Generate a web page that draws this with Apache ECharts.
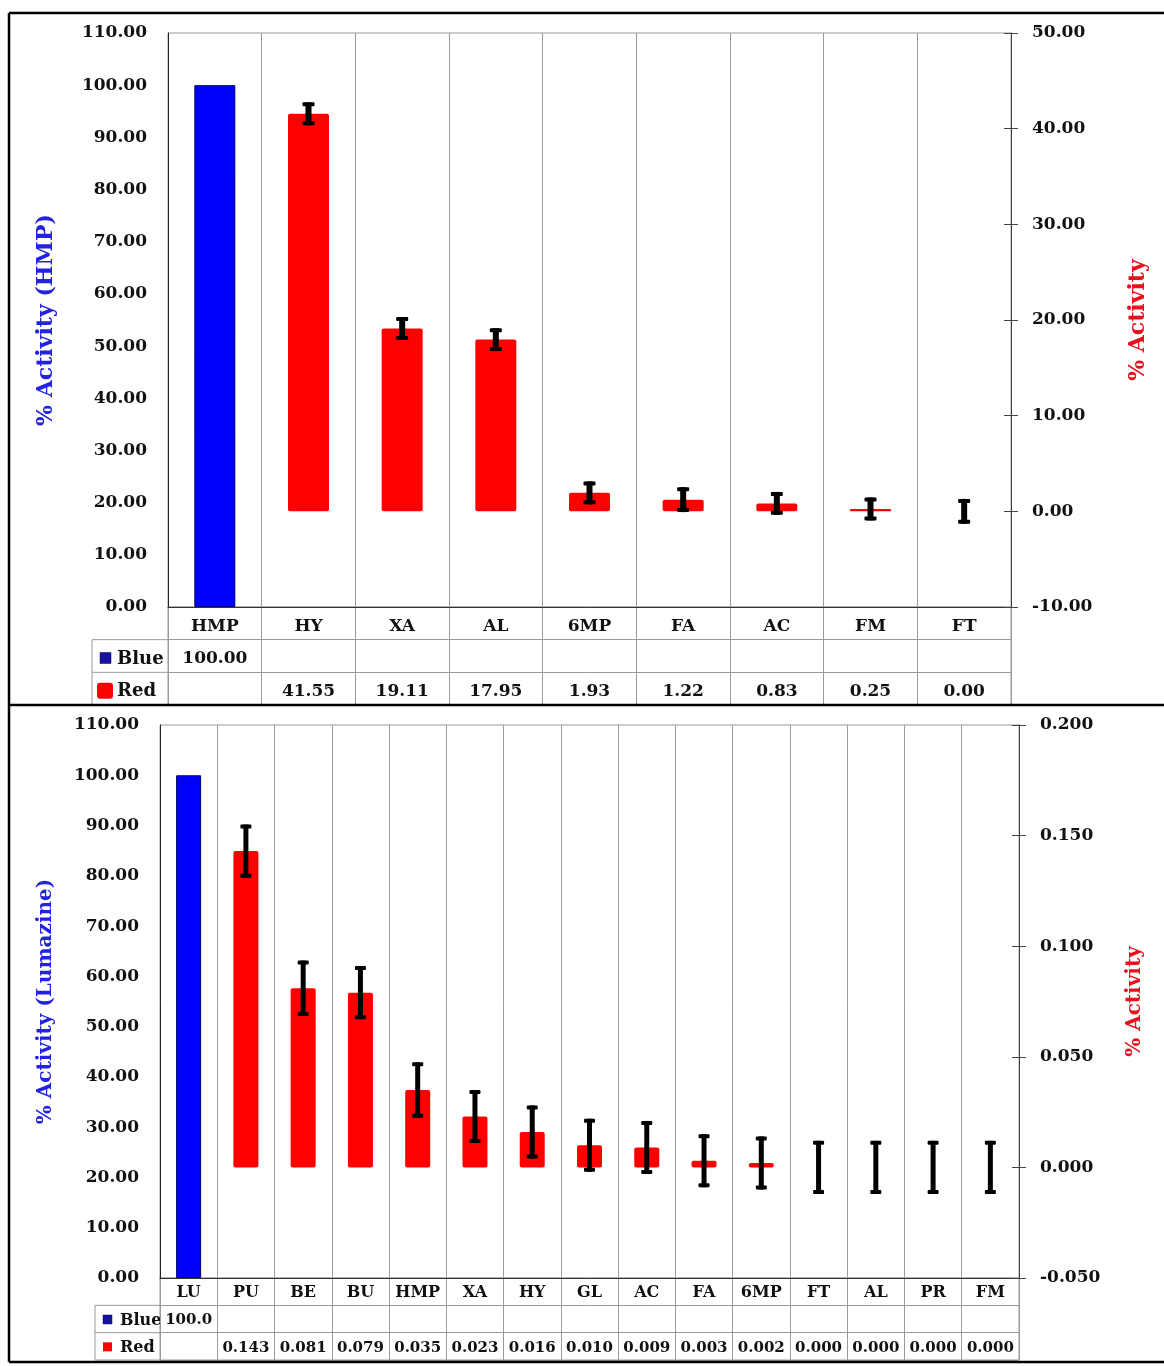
<!DOCTYPE html>
<html><head><meta charset="utf-8">
<script src="https://cdn.jsdelivr.net/npm/echarts@6/dist/echarts.min.js"></script>
<style>html,body{margin:0;padding:0;background:#fff}#c{width:1164px;height:1366px}</style>
</head><body><div id="c"></div>
<script>
// ---------- DATA ----------
const topCategories = ['HMP','HY','XA','AL','6MP','FA','AC','FM','FT'];
const topBlue = [100, null, null, null, null, null, null, null, null];
const topRed = [null, 41.55, 19.11, 17.95, 1.93, 1.22, 0.83, 0.25, 0.00];
const topRedErr = [null, 1.2, 1.2, 1.2, 1.2, 1.3, 1.2, 1.2, 1.3];
const topBlueLabels = ['100.00','','','','','','','',''];
const topRedLabels = ['','41.55','19.11','17.95','1.93','1.22','0.83','0.25','0.00'];
const topLeftAxis = {min: 0, max: 110, interval: 10, name: '% Activity (HMP)'};
const topRightAxis = {min: -10, max: 50, interval: 10, name: '% Activity'};

const botCategories = ['LU','PU','BE','BU','HMP','XA','HY','GL','AC','FA','6MP','FT','AL','PR','FM'];
const botBlue = [100, null, null, null, null, null, null, null, null, null, null, null, null, null, null];
const botRed = [null, 0.143, 0.081, 0.079, 0.035, 0.023, 0.016, 0.010, 0.009, 0.003, 0.002, 0.000, 0.000, 0.000, 0.000];
const botRedErr = [null, 0.012, 0.0125, 0.012, 0.0125, 0.012, 0.012, 0.012, 0.012, 0.012, 0.012, 0.012, 0.012, 0.012, 0.012];
const botBlueLabels = ['100.0','','','','','','','','','','','','','',''];
const botRedLabels = ['','0.143','0.081','0.079','0.035','0.023','0.016','0.010','0.009','0.003','0.002','0.000','0.000','0.000','0.000'];
const botLeftAxis = {min: 0, max: 110, interval: 10, name: '% Activity (Lumazine)'};
const botRightAxis = {min: -0.05, max: 0.2, interval: 0.05, name: '% Activity'};
const legendNames = ['Blue', 'Red'];

// ---------- STYLE ----------
const FF = 'DejaVu Serif';
const BLUE = '#0000ff', RED = '#ff0000';
const GRIDC = '#9a9a9a';

const W = 1164;
const L1 = {left:168, top:33, width:843, height:574, tblH:98, fs:17, catFs:17, tblFs:17, legFs:18, nameFs:22, barW:41, errW:6, capW:12, dec:2, rdec:2, nameGapL:111, nameGapR:116, legX:92, tdy:3};
const L2 = {left:160, top:725, width:859, height:553, tblH:82, fs:17, catFs:16, tblFs:15, legFs:16, nameFs:20, barW:25, errW:5, capW:11, dec:2, rdec:3, nameGapL:104, nameGapR:106, legX:95, tdy:1.5};

const chart = echarts.init(document.getElementById('c'));

const grids = [], xAxes = [], yAxes = [], series = [], graphics = [];

function tableCells(cats, blueL, redL){
  const cells = [], texts = [];
  cats.forEach((c,i)=>{ cells.push([i,0]); texts.push(c); });
  blueL.forEach((t,i)=>{ if(t!=='') { cells.push([i,1]); texts.push(t);} });
  redL.forEach((t,i)=>{ if(t!=='') { cells.push([i,2]); texts.push(t);} });
  return {cells, texts};
}

function buildPanel(L, cats, blue, red, err, blueL, redL, la, ra){
  const gi = grids.length;
  grids.push({left:L.left, top:L.top, width:L.width, height:L.height, show:true, borderColor:GRIDC, borderWidth:1, containLabel:false});
  grids.push({left:L.left, top:L.top+L.height, width:L.width, height:L.tblH, show:true, borderColor:GRIDC, borderWidth:1, containLabel:false});
  const xi = xAxes.length;
  xAxes.push({type:'category', gridIndex:gi, data:cats, boundaryGap:true,
    axisLine:{show:true, lineStyle:{color:'#333', width:1}}, axisTick:{show:false}, axisLabel:{show:false},
    splitLine:{show:true, interval:0, lineStyle:{color:GRIDC, width:1}}});
  xAxes.push({type:'category', gridIndex:gi+1, data:cats, boundaryGap:true,
    axisLine:{show:false}, axisTick:{show:false}, axisLabel:{show:false},
    splitLine:{show:true, interval:0, lineStyle:{color:GRIDC, width:1}}});
  const yi = yAxes.length;
  yAxes.push({type:'value', gridIndex:gi, position:'left', min:la.min, max:la.max, interval:la.interval,
    name:la.name, nameLocation:'middle', nameGap:L.nameGapL, nameRotate:90,
    nameTextStyle:{color:'#2222e0', fontFamily:FF, fontWeight:'bold', fontSize:L.nameFs},
    axisLine:{show:true, lineStyle:{color:'#222'}}, axisTick:{show:false},
    axisLabel:{margin:21, color:'#111', fontFamily:FF, fontWeight:'bold', fontSize:L.fs, formatter:v=>v.toFixed(L.dec)},
    splitLine:{show:false}});
  yAxes.push({type:'value', gridIndex:gi, position:'right', min:ra.min, max:ra.max, interval:ra.interval,
    name:ra.name, nameLocation:'middle', nameGap:L.nameGapR, nameRotate:90,
    nameTextStyle:{color:'#e8101a', fontFamily:FF, fontWeight:'bold', fontSize:L.nameFs},
    axisLine:{show:true, lineStyle:{color:'#444'}}, axisTick:{show:true, inside:false, length:7, lineStyle:{color:'#444'}},
    axisLabel:{margin:21, color:'#111', fontFamily:FF, fontWeight:'bold', fontSize:L.fs, formatter:v=>v.toFixed(L.rdec)},
    splitLine:{show:false}});
  yAxes.push({type:'value', gridIndex:gi, position:'right', min:ra.min, max:ra.max, interval:ra.interval,
    axisLine:{show:false}, axisTick:{show:true, inside:true, length:7, lineStyle:{color:'#444'}},
    axisLabel:{show:false}, splitLine:{show:false}});
  yAxes.push({type:'value', gridIndex:gi+1, min:0, max:3, interval:1, inverse:true,
    axisLine:{show:false}, axisTick:{show:false}, axisLabel:{show:false},
    splitLine:{show:true, lineStyle:{color:GRIDC, width:1}}});

  series.push({type:'bar', xAxisIndex:xi, yAxisIndex:yi, data:blue, barWidth:L.barW, barGap:'-100%',
    itemStyle:{color:BLUE, borderColor:'#000070', borderWidth:1}, silent:true});
  series.push({type:'bar', xAxisIndex:xi, yAxisIndex:yi+1, data:red, barWidth:L.barW, barGap:'-100%',
    itemStyle:{color:RED, borderRadius:2}, silent:true});
  const errData = [];
  red.forEach((v,i)=>{ if(v!==null) errData.push([i, v, err[i]]); });
  series.push({type:'custom', xAxisIndex:xi, yAxisIndex:yi+1, data:errData, silent:true, z:5,
    renderItem:(params, api)=>{
      const x = api.value(0), v = api.value(1), e = api.value(2);
      const t = api.coord([x, v+e]), b = api.coord([x, v-e]);
      const lw = L.errW, cw = L.capW;
      return {type:'group', children:[
        {type:'rect', shape:{x:t[0]-lw/2, y:t[1], width:lw, height:b[1]-t[1]}, style:{fill:'#000'}},
        {type:'rect', shape:{x:t[0]-cw/2, y:t[1], width:cw, height:4, r:1}, style:{fill:'#000'}},
        {type:'rect', shape:{x:b[0]-cw/2, y:b[1]-4, width:cw, height:4, r:1}, style:{fill:'#000'}}
      ]};
    }});
  const tc = tableCells(cats, blueL, redL);
  series.push({type:'custom', xAxisIndex:xi+1, yAxisIndex:yi+3, data:tc.cells, silent:true, clip:false,
    renderItem:(params, api)=>{
      const row = api.value(1);
      const p = api.coord([api.value(0), row+0.5]);
      return {type:'text', x:p[0], y:p[1]+L.tdy, style:{text:tc.texts[params.dataIndex], fill:'#111',
        fontFamily:FF, fontWeight:'bold', fontSize: row===0 ? L.catFs : L.tblFs, align:'center', verticalAlign:'middle'}};
    }});

  // legend column of the table
  const t0 = L.top + L.height, rh = L.tblH/3;
  const r1 = t0 + rh, r2 = t0 + 2*rh, r3 = t0 + 3*rh;
  const lx = L.legX;
  [[lx, r1, L.left, r1],[lx, r2, L.left, r2],[lx, r3, L.left, r3],[lx, r1, lx, r3]].forEach(s=>{
    graphics.push({type:'line', shape:{x1:s[0], y1:s[1], x2:s[2], y2:s[3]}, style:{stroke:GRIDC, lineWidth:1}, silent:true});
  });
  const sq = L === L1 ? [11, 16] : [9, 9];
  graphics.push({type:'rect', shape:{x:lx+8, y:r1+rh/2-sq[0]/2+L.tdy-1, width:sq[0], height:sq[0]}, style:{fill:'#1414a0', stroke:'#0a0a60', lineWidth:0.5}, silent:true});
  graphics.push({type:'rect', shape:{x:lx+(L===L1?5:8), y:r2+rh/2-sq[1]/2+L.tdy-1, width:sq[1], height:sq[1], r:(L===L1?3:0)}, style:{fill:RED}, silent:true});
  legendNames.forEach((n,k)=>{
    graphics.push({type:'text', x:lx+25, y:(k===0?r1:r2)+rh/2+L.tdy, style:{text:n, fill:'#111', fontFamily:FF, fontWeight:'bold', fontSize:L.legFs, verticalAlign:'middle', align:'left'}, silent:true});
  });
}

buildPanel(L1, topCategories, topBlue, topRed, topRedErr, topBlueLabels, topRedLabels, topLeftAxis, topRightAxis);
buildPanel(L2, botCategories, botBlue, botRed, botRedErr, botBlueLabels, botRedLabels, botLeftAxis, botRightAxis);

// outer frame
[[9,13,W,13],[9,705,W,705],[9,1362,W,1362],[9,13,9,1362]].forEach(s=>{
  graphics.push({type:'line', shape:{x1:s[0], y1:s[1], x2:s[2], y2:s[3]}, style:{stroke:'#000', lineWidth:2.5}, silent:true, z:100});
});

chart.setOption({
  animation:false,
  backgroundColor:'#fff',
  grid:grids, xAxis:xAxes, yAxis:yAxes, series:series,
  graphic:{elements:graphics}
});
</script></body></html>
